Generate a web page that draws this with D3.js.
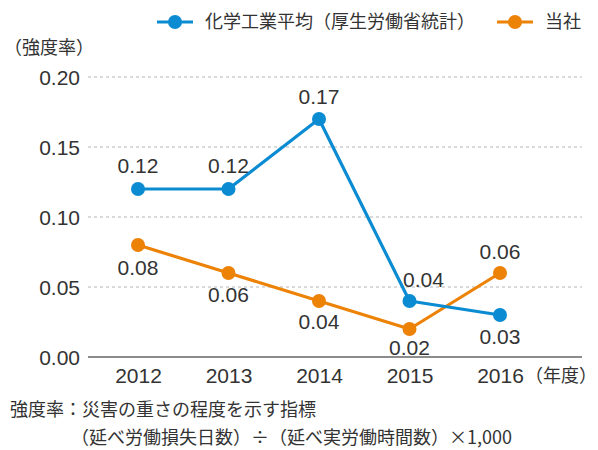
<!DOCTYPE html>
<html>
<head>
<meta charset="utf-8">
<script src="https://cdn.jsdelivr.net/npm/d3@7"></script>
<style>
  body { margin: 0; background: #fff; }
  text { fill: #333; }
  .num { font-family: "Liberation Sans", Arial, sans-serif; font-size: 21px; }
  .jp { font-family: "Noto Sans CJK JP", sans-serif; font-size: 18px; }
</style>
</head>
<body>
<div id="chart"></div>
<script>
// data
const years = ["2012", "2013", "2014", "2015", "2016"];
const industryAvg = [0.12, 0.12, 0.17, 0.04, 0.03];
const company = [0.08, 0.06, 0.04, 0.02, 0.06];
const yTicks = [0, 0.05, 0.10, 0.15, 0.20];
const seriesNames = ["化学工業平均（厚生労働省統計）", "当社"];
const colors = ["#0a8bd2", "#ec8206"];

// label offset from each point (negative = above), small x nudges
const blueOffset = [-23, -23, -22, -21, 22];
const orangeOffset = [23, 22, 21, 19, -21];
const blueNudge = [0, 0, 0, 14, 0];

const W = 598, H = 450;
const svg = d3.select("#chart").append("svg")
  .attr("width", W)
  .attr("height", H);

const x = d3.scalePoint()
  .domain(years)
  .range([138, 500]);

const y = d3.scaleLinear()
  .domain([0, 0.20])
  .range([357, 77]);

// grid lines
svg.append("g")
  .selectAll("line")
  .data(yTicks.filter(d => d > 0))
  .enter()
  .append("line")
  .attr("x1", 88)
  .attr("x2", 582)
  .attr("y1", d => y(d))
  .attr("y2", d => y(d))
  .attr("stroke", "#b4b4b4")
  .attr("stroke-width", 1)
  .attr("stroke-dasharray", "3,3");

// baseline
svg.append("line")
  .attr("x1", 88)
  .attr("x2", 582)
  .attr("y1", y(0))
  .attr("y2", y(0))
  .attr("stroke", "#8c8c8c")
  .attr("stroke-width", 2);

// y axis
const yAxis = svg.append("g")
  .attr("transform", "translate(88,0)")
  .call(d3.axisLeft(y).tickValues(yTicks).tickFormat(d3.format(".2f")).tickSize(0).tickPadding(8));
yAxis.select(".domain").remove();
yAxis.selectAll("text").attr("class", "num").attr("fill", "#333").attr("dy", "0.35em");

// x axis
const xAxis = svg.append("g")
  .attr("transform", `translate(0,${y(0)})`)
  .call(d3.axisBottom(x).tickSize(0).tickPadding(11));
xAxis.select(".domain").remove();
xAxis.selectAll("text").attr("class", "num").attr("fill", "#333");

// unit labels
svg.append("text")
  .attr("class", "jp")
  .attr("x", 4)
  .attr("y", 54)
  .text("（強度率）");

svg.append("text")
  .attr("class", "jp")
  .attr("x", 525)
  .attr("y", 382)
  .text("（年度）");

// lines + points + value labels
const line = d3.line()
  .x((d, i) => x(years[i]))
  .y(d => y(d));

const drawSeries = (vals, color, offset, nudge) => {
  svg.append("path")
    .datum(vals)
    .attr("d", line)
    .attr("fill", "none")
    .attr("stroke", color)
    .attr("stroke-width", 3.2)
    .attr("stroke-linejoin", "round");

  svg.append("g")
    .selectAll("circle")
    .data(vals)
    .enter()
    .append("circle")
    .attr("cx", (d, i) => x(years[i]))
    .attr("cy", d => y(d))
    .attr("r", 7)
    .attr("fill", color);

  svg.append("g")
    .selectAll("text")
    .data(vals)
    .enter()
    .append("text")
    .attr("class", "num")
    .attr("text-anchor", "middle")
    .attr("x", (d, i) => x(years[i]) + (nudge ? nudge[i] : 0))
    .attr("y", (d, i) => y(d) + offset[i])
    .attr("dy", "0.35em")
    .text(d => d.toFixed(2));
};

drawSeries(company, colors[1], orangeOffset);
drawSeries(industryAvg, colors[0], blueOffset, blueNudge);

// legend
const legendX = [157, 497];
seriesNames.forEach((name, i) => {
  const g = svg.append("g").attr("transform", `translate(${legendX[i]},22)`);
  g.append("line")
    .attr("x1", 0).attr("x2", 36)
    .attr("stroke", colors[i])
    .attr("stroke-width", 3.2);
  g.append("circle")
    .attr("cx", 18)
    .attr("r", 7)
    .attr("fill", colors[i]);
  g.append("text")
    .attr("class", "jp")
    .attr("x", 48)
    .attr("dy", "0.35em")
    .text(name);
});

// footnote
svg.append("text")
  .attr("class", "jp")
  .attr("x", 10)
  .attr("y", 416)
  .text("強度率：災害の重さの程度を示す指標");

svg.append("text")
  .attr("class", "jp")
  .attr("x", 71)
  .attr("y", 444)
  .text("（延べ労働損失日数）÷（延べ実労働時間数）×1,000");
</script>
</body>
</html>
